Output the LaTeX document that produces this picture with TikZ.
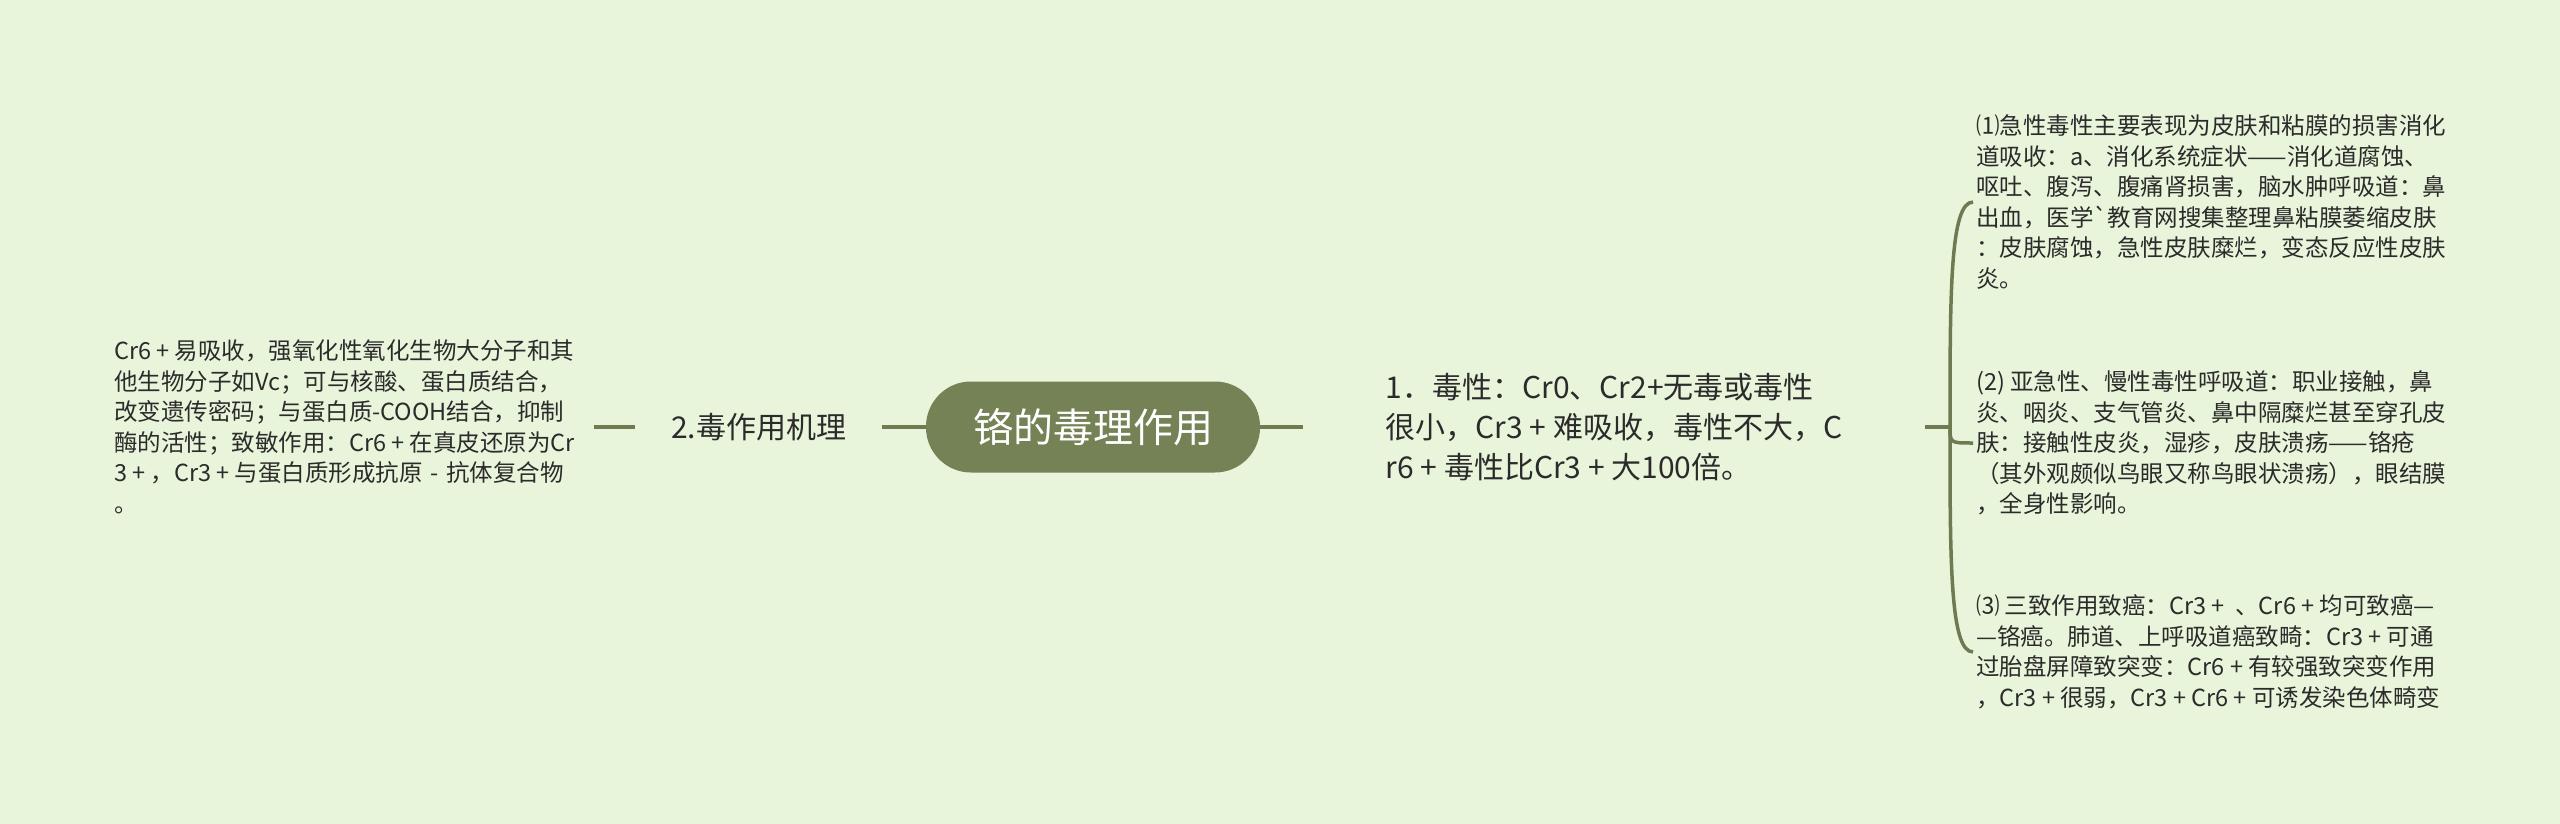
\documentclass[tikz,border=0pt]{standalone}
\usepackage{fontspec}
\setmainfont{Noto Sans CJK SC}
\usetikzlibrary{calc}
\definecolor{bg}{HTML}{E8F5DB}
\definecolor{olive}{HTML}{748255}
\definecolor{linec}{HTML}{6E7A50}
\definecolor{txt}{HTML}{2B2B2B}
\newcommand{\pl}{\makebox[1em]{+}}
\newcommand{\dsh}{\makebox[1em]{-}}
\tikzset{
  conn/.style={draw=linec, line width=4pt},
  bracecurve/.style={draw=linec, line width=3.5pt},
  rootnode/.style={fill=olive, rounded corners=45pt, minimum width=334pt, minimum height=91pt, text=white, font=\fontsize{40}{48}\selectfont, inner sep=0pt},
  subnode/.style={text=txt, font=\fontsize{30}{40}\selectfont, inner sep=0pt, align=left},
  leafnode/.style={text=txt, font=\fontsize{23.5}{30.5}\selectfont, inner ysep=0pt, inner xsep=3pt, align=left},
}
\begin{document}
\begin{tikzpicture}[x=1pt,y=-1pt]
\useasboundingbox (0,0) rectangle (2560,824);
\fill[bg] (0,0) rectangle (2560,824);

\node[rootnode] (root) at (1093,427) {铬的毒理作用};
\node[subnode, minimum width=247pt] (mech) at (758.5,427) {2.毒作用机理};
\node[subnode, minimum width=622pt] (tox) at (1614,427) {1．毒性：Cr0、Cr2+无毒或毒性\\很小，Cr3\pl 难吸收，毒性不大，C\\r6\pl 毒性比Cr3\pl 大100倍。};

\node[leafnode, anchor=east, inner xsep=19pt] (mechtext) at (594,427) {Cr6\pl 易吸收，强氧化性氧化生物大分子和其\\他生物分子如Vc；可与核酸、蛋白质结合，\\改变遗传密码；与蛋白质-COOH结合，抑制\\酶的活性；致敏作用：Cr6\pl 在真皮还原为Cr\\3\pl ，Cr3\pl 与蛋白质形成抗原\dsh 抗体复合物\\。};

\node[leafnode, anchor=west] (acute) at (1973,202) {⑴急性毒性主要表现为皮肤和粘膜的损害消化\\道吸收：a、消化系统症状——消化道腐蚀、\\呕吐、腹泻、腹痛肾损害，脑水肿呼吸道：鼻\\出血，医学\textasciigrave 教育网搜集整理鼻粘膜萎缩皮肤\\：皮肤腐蚀，急性皮肤糜烂，变态反应性皮肤\\炎。};
\node[leafnode, anchor=west] (chronic) at (1973,443) {(2) 亚急性、慢性毒性呼吸道：职业接触，鼻\\炎、咽炎、支气管炎、鼻中隔糜烂甚至穿孔皮\\肤：接触性皮炎，湿疹，皮肤溃疡——铬疮\\（其外观颇似鸟眼又称鸟眼状溃疡），眼结膜\\，全身性影响。};
\node[leafnode, anchor=west] (three) at (1973,652) {⑶ 三致作用致癌：Cr3\pl\ 、Cr6\pl 均可致癌—\\—铬癌。肺道、上呼吸道癌致畸：Cr3\pl 可通\\过胎盘屏障致突变：Cr6\pl 有较强致突变作用\\，Cr3\pl 很弱，Cr3\pl Cr6\pl 可诱发染色体畸变};

\coordinate (fork) at (1950,427);

\draw[conn] (mechtext.east) -- (mech.west);
\draw[conn] (mech.east) -- (root.west);
\draw[conn] (root.east) -- (tox.west);
\draw[conn] (tox.east) -- (fork);

\draw[bracecurve] (fork) .. controls ($(fork)!0.6!(fork |- acute.west)$) and (fork |- acute.west) .. (acute.west);
\draw[bracecurve] (fork) .. controls (fork |- chronic.west) .. (chronic.west);
\draw[bracecurve] (fork) .. controls ($(fork)!0.6!(fork |- three.west)$) and (fork |- three.west) .. (three.west);
\end{tikzpicture}
\end{document}
